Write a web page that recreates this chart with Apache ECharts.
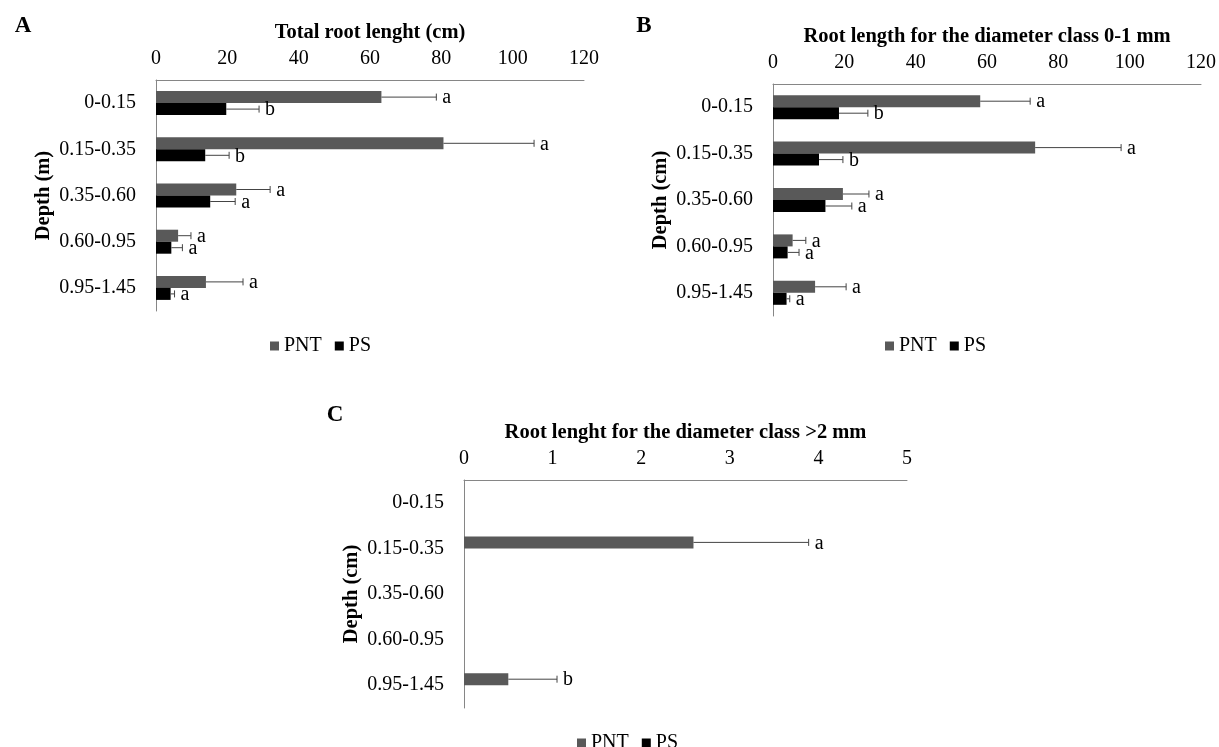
<!DOCTYPE html>
<html lang="en">

<head>
  <meta charset="UTF-8">
  <title>Root length</title>
  <script src="https://cdn.jsdelivr.net/npm/echarts@6/dist/echarts.min.js"></script>
  <style>
    * {
      margin: 0;
      padding: 0;
    }

    body {
      background: #fff;
    }
  </style>
</head>

<body>
  <div id="chart" style="width: 1219px; height: 747px;"></div>
</body>

<script>
  // 深度分类
  var depths = ['0-0.15', '0.15-0.35', '0.35-0.60', '0.60-0.95', '0.95-1.45'];

  // A: total root length
  var aPNT = [63.2, 80.6, 22.5, 6.2, 14.0];
  var aPNTsd = [15.4, 25.4, 9.5, 3.6, 10.4];
  var aPNTlet = ['a', 'a', 'a', 'a', 'a'];
  var aPS = [19.7, 13.8, 15.2, 4.3, 4.1];
  var aPSsd = [9.2, 6.7, 7.0, 3.1, 1.1];
  var aPSlet = ['b', 'b', 'a', 'a', 'a'];

  // B: diameter class 0-1 mm
  var bPNT = [58.1, 73.5, 19.6, 5.5, 11.8];
  var bPNTsd = [14.0, 24.1, 7.3, 3.7, 8.7];
  var bPNTlet = ['a', 'a', 'a', 'a', 'a'];
  var bPS = [18.5, 12.9, 14.7, 4.1, 3.8];
  var bPSsd = [8.1, 6.7, 7.4, 3.2, 0.9];
  var bPSlet = ['b', 'b', 'a', 'a', 'a'];

  // C: diameter class >2 mm
  var cPNT = [null, 2.59, null, null, 0.5];
  var cPNTsd = [null, 1.3, null, null, 0.55];
  var cPNTlet = ['', 'a', '', '', 'b'];
  var cPS = [null, null, null, null, null];

  var FONT = '"Liberation Serif", "Times New Roman", serif';
  var GREY = '#595959';
  var BW = 12;

  var myChart = echarts.init(document.getElementById('chart'));

  // 误差线 + 字母
  function errSeries(vals, sds, lets, idx, side) {
    var data = [];
    vals.forEach(function (v, i) {
      if (v != null && sds[i] != null) data.push([v, i, sds[i], i]);
    });
    return {
      type: 'custom',
      xAxisIndex: idx,
      yAxisIndex: idx,
      silent: true,
      z: 5,
      encode: { x: 0, y: 1 },
      data: data,
      renderItem: function (params, api) {
        var v = api.value(0), ci = api.value(1), sd = api.value(2);
        var p0 = api.coord([v, ci]);
        var p1 = api.coord([v + sd, ci]);
        var y = p0[1] + side * BW / 2;
        return {
          type: 'group',
          children: [{
            type: 'line',
            shape: { x1: p0[0], y1: y, x2: p1[0], y2: y },
            style: { stroke: '#444', lineWidth: 1 }
          }, {
            type: 'line',
            shape: { x1: p1[0], y1: y - 3.5, x2: p1[0], y2: y + 3.5 },
            style: { stroke: '#444', lineWidth: 1 }
          }, {
            type: 'text',
            style: {
              text: lets[api.value(3)],
              x: p1[0] + 6, y: y + 1,
              align: 'left', verticalAlign: 'middle',
              font: '20px ' + FONT, fill: '#000'
            }
          }]
        };
      }
    };
  }

  function xAx(idx, max, interval, title) {
    return {
      type: 'value', gridIndex: idx, position: 'top',
      min: 0, max: max, interval: interval,
      name: title, nameLocation: 'middle', nameGap: 36.5,
      nameTextStyle: { fontFamily: FONT, fontSize: 20.5, fontWeight: 'bold', color: '#000' },
      axisLine: { show: true, lineStyle: { color: '#868686', width: 1 } },
      axisTick: { show: false },
      splitLine: { show: false },
      axisLabel: { fontFamily: FONT, fontSize: 20, color: '#000', margin: 11 }
    };
  }

  function yAx(idx, name) {
    return {
      type: 'category', gridIndex: idx, data: depths, inverse: true,
      name: name, nameLocation: 'middle', nameGap: 102,
      nameTextStyle: { fontFamily: FONT, fontSize: 20.5, fontWeight: 'bold', color: '#000' },
      axisLine: { show: true, onZero: false, lineStyle: { color: '#868686', width: 1 } },
      axisTick: { show: false },
      axisLabel: { fontFamily: FONT, fontSize: 20, color: '#000', margin: 20 }
    };
  }

  function barSeries(name, vals, idx, color) {
    return {
      name: name, type: 'bar', xAxisIndex: idx, yAxisIndex: idx,
      data: vals, barWidth: BW, barGap: '0%',
      itemStyle: { color: color }
    };
  }

  function legendAt(left, top) {
    return {
      left: left, top: top, selectedMode: false,
      data: ['PNT', 'PS'], icon: 'rect',
      itemWidth: 9, itemHeight: 9, itemGap: 13,
      textStyle: { fontFamily: FONT, fontSize: 20, color: '#000' }
    };
  }

  function panelLetter(t, x, y) {
    return {
      type: 'text', x: x, y: y,
      style: { text: t, font: 'bold 23px ' + FONT, fill: '#000', align: 'center', verticalAlign: 'middle' }
    };
  }

  var option = {
    backgroundColor: '#fff',
    animation: false,
    grid: [
      { left: 156, top: 80, width: 428, height: 231 },
      { left: 773, top: 84, width: 429, height: 232 },
      { left: 464, top: 480, width: 443, height: 228 }
    ],
    xAxis: [
      xAx(0, 120, 20, 'Total root lenght (cm)'),
      xAx(1, 120, 20, 'Root length for the diameter class 0-1 mm'),
      xAx(2, 5, 1, 'Root lenght for the diameter class >2 mm')
    ],
    yAxis: [
      yAx(0, 'Depth (m)'),
      yAx(1, 'Depth (cm)'),
      yAx(2, 'Depth (cm)')
    ],
    legend: [
      legendAt(265, 331),
      legendAt(880, 331),
      legendAt(572, 728)
    ],
    graphic: [
      panelLetter('A', 23, 26),
      panelLetter('B', 644, 26),
      panelLetter('C', 335, 415)
    ],
    series: [
      barSeries('PNT', aPNT, 0, GREY),
      barSeries('PS', aPS, 0, '#000'),
      barSeries('PNT', bPNT, 1, GREY),
      barSeries('PS', bPS, 1, '#000'),
      barSeries('PNT', cPNT, 2, GREY),
      barSeries('PS', cPS, 2, '#000'),
      errSeries(aPNT, aPNTsd, aPNTlet, 0, -1),
      errSeries(aPS, aPSsd, aPSlet, 0, 1),
      errSeries(bPNT, bPNTsd, bPNTlet, 1, -1),
      errSeries(bPS, bPSsd, bPSlet, 1, 1),
      errSeries(cPNT, cPNTsd, cPNTlet, 2, -1)
    ]
  };

  myChart.setOption(option);
</script>

</html>
